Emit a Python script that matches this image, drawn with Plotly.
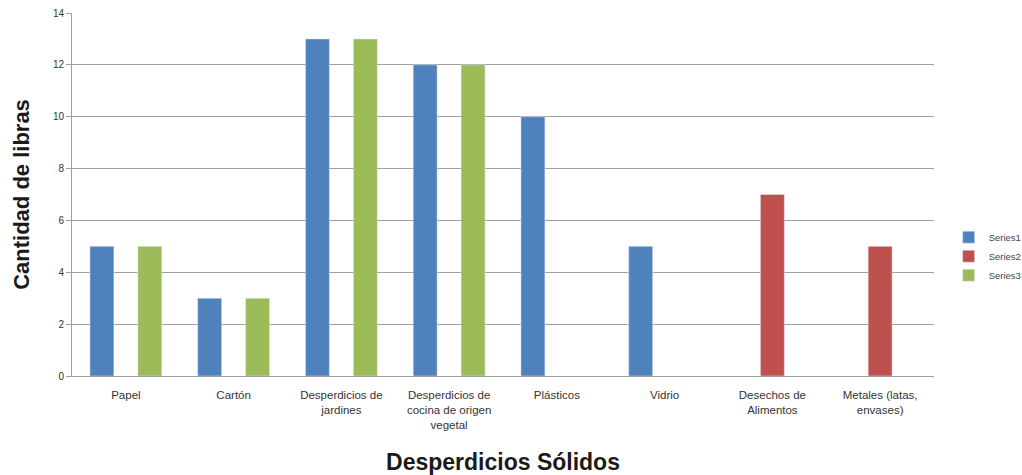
import plotly.graph_objects as go

categorias = [
    "Papel",
    "Cartón",
    "Desperdicios de<br>jardines",
    "Desperdicios de<br>cocina de origen<br>vegetal",
    "Plásticos",
    "Vidrio",
    "Desechos de<br>Alimentos",
    "Metales (latas,<br>envases)",
]
series1 = [5, 3, 13, 12, 10, 5, None, None]
series2 = [None, None, None, None, None, None, 7, 5]
series3 = [5, 3, 13, 12, None, None, None, None]
y_ticks = [0, 2, 4, 6, 8, 10, 12, 14]

fig = go.Figure()
fig.add_trace(go.Bar(name="Series1", x=categorias, y=series1, marker_color="#4F81BD"))
fig.add_trace(go.Bar(name="Series2", x=categorias, y=series2, marker_color="#C0504D"))
fig.add_trace(go.Bar(name="Series3", x=categorias, y=series3, marker_color="#9BBB59"))

fig.update_layout(
    width=1022,
    height=475,
    margin=dict(l=72, r=88, t=13, b=99, autoexpand=False),
    paper_bgcolor="white",
    plot_bgcolor="white",
    barmode="group",
    bargap=0.333,
    bargroupgap=0,
    font=dict(family="Liberation Sans", color="#333333"),
    legend=dict(
        x=1.017, y=0.33, xanchor="left", yanchor="middle",
        font=dict(size=9.5, color="#444444"),
        itemwidth=30,
    ),
)
fig.update_xaxes(
    showline=True, linecolor="#a0a0a0", linewidth=1,
    ticks="", ticklabelstandoff=8,
    tickfont=dict(size=11.5, color="#333333"),
    title=dict(text="<b>Desperdicios Sólidos</b>", font=dict(size=23, color="#1a1a1a"), standoff=25),
)
fig.update_yaxes(
    range=[0, 14], tickvals=y_ticks,
    showgrid=True, gridcolor="#a0a0a0", gridwidth=1,
    showline=True, linecolor="#a0a0a0", linewidth=1,
    ticks="outside", ticklen=5, tickcolor="#a0a0a0",
    tickfont=dict(size=10, color="#333333"),
    zeroline=False,
    title=dict(text="<b>Cantidad de libras</b>", font=dict(size=22, color="#1a1a1a"), standoff=17),
)

fig.write_html("out.html")
